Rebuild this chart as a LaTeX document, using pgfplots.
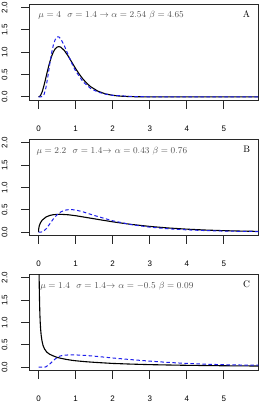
\documentclass[border=0pt]{standalone}
\usepackage{pgfplots}
\pgfplotsset{compat=1.18}
\usepackage{fontspec}
\newfontfamily\axfont{Liberation Sans}
\definecolor{rblue}{RGB}{30,30,235}
\definecolor{anno}{RGB}{80,80,80}
\definecolor{rframe}{RGB}{40,40,40}
\pgfplotsset{
 rpanel/.style={
  scale only axis, width=229pt, height=96.5pt, anchor=north west,
  xmin=-0.25, xmax=5.93, ymin=-0.08, ymax=2.08,
  axis line style={draw=rframe, line width=1pt},
  tick align=outside, xtick pos=bottom, ytick pos=left,
  major tick length=8pt,
  major tick style={draw=rframe, line width=1pt},
  xtick={0,1,2,3,4,5}, xticklabels={0,1,2,3,4,5},
  ytick={0,0.5,1,1.5,2}, yticklabels={0.0,0.5,1.0,1.5,2.0},
  ticklabel style={font=\axfont\fontsize{8}{9}\selectfont},
  xticklabel style={anchor=base, yshift=-23pt},
  yticklabel style={xshift=-14pt, rotate=90, anchor=base},
  clip=false,
 },
 blk/.style={black, line width=1.1pt},
 blu/.style={rblue, line width=1.0pt, dash pattern=on 3.5pt off 2.5pt},
 frm/.style={rframe, line width=1pt, line cap=rect},
 tk/.style={rframe, line width=1pt},
}
\newcommand{\rframebox}{%
\addplot[frm] coordinates {(-0.25,-0.08) (5.93,-0.08) (5.93,2.08) (-0.25,2.08) (-0.25,-0.08)};
\addplot[tk] coordinates {(0,-0.08) (0,-0.26)};
\addplot[tk] coordinates {(1,-0.08) (1,-0.26)};
\addplot[tk] coordinates {(2,-0.08) (2,-0.26)};
\addplot[tk] coordinates {(3,-0.08) (3,-0.26)};
\addplot[tk] coordinates {(4,-0.08) (4,-0.26)};
\addplot[tk] coordinates {(5,-0.08) (5,-0.26)};
\addplot[tk] coordinates {(-0.25,0) (-0.466,0)};
\addplot[tk] coordinates {(-0.25,0.5) (-0.466,0.5)};
\addplot[tk] coordinates {(-0.25,1) (-0.466,1)};
\addplot[tk] coordinates {(-0.25,1.5) (-0.466,1.5)};
\addplot[tk] coordinates {(-0.25,2) (-0.466,2)};
}
\begin{document}
\begin{tikzpicture}
\path[use as bounding box] (0,0) rectangle (263pt,-405pt);
% Panel A
\begin{axis}[rpanel, at={(29.3pt,-4pt)}]
\rframebox
\addplot[blk] coordinates {(0,0) (0.05,0.026) (0.1,0.12) (0.15,0.267) (0.2,0.44) (0.25,0.614) (0.3,0.773) (0.35,0.906) (0.4,1.009) (0.45,1.078) (0.5,1.116) (0.55,1.127) (0.6,1.114) (0.7,1.035) (0.8,0.913) (0.9,0.774) (1.0,0.635) (1.1,0.508) (1.2,0.398) (1.3,0.307) (1.4,0.232) (1.6,0.129) (1.8,0.069) (2.0,0.036) (2.2,0.018) (2.5,0.006) (3.0,0.001) (4,0) (5.93,0)};
\addplot[blu] coordinates {(0,0) (0.1,0.006) (0.15,0.059) (0.2,0.21) (0.25,0.451) (0.3,0.723) (0.35,0.973) (0.4,1.165) (0.45,1.287) (0.5,1.342) (0.55,1.342) (0.6,1.299) (0.7,1.138) (0.8,0.94) (0.9,0.748) (1.0,0.582) (1.2,0.339) (1.4,0.193) (1.6,0.11) (1.8,0.063) (2.0,0.037) (2.5,0.01) (3.0,0.003) (3.5,0.001) (4,0) (5.93,0)};
\node[anchor=base west, text=anno, font=\fontsize{9.5}{11}\selectfont, inner sep=0pt] at (rel axis cs:0.039,0.855) {$\mu=4\ \ \sigma=1.4\rightarrow\alpha=2.54\ \beta=4.65$};
\node[anchor=base east, font=\fontsize{9.5}{11}\selectfont, inner sep=0pt] at (rel axis cs:0.965,0.86) {A};
\end{axis}
% Panel B
\begin{axis}[rpanel, at={(29.3pt,-139.3pt)}]
\rframebox
\addplot[blk] coordinates {(0,0) (0.002,0.055) (0.005,0.08) (0.01,0.108) (0.02,0.145) (0.05,0.21) (0.1,0.272) (0.2,0.34) (0.3,0.375) (0.4,0.393) (0.57,0.402) (0.8,0.391) (1.0,0.37) (1.25,0.336) (1.5,0.301) (2.0,0.233) (2.5,0.175) (3.0,0.13) (3.5,0.095) (4.0,0.069) (4.5,0.049) (5.0,0.035) (5.5,0.025) (5.93,0.019)};
\addplot[blu] coordinates {(0,0) (0.1,0.007) (0.2,0.071) (0.3,0.184) (0.4,0.299) (0.5,0.391) (0.6,0.455) (0.7,0.492) (0.85,0.51) (1.0,0.498) (1.2,0.456) (1.5,0.376) (2.0,0.256) (2.5,0.17) (3.0,0.114) (3.5,0.077) (4.0,0.053) (4.5,0.037) (5.0,0.026) (5.5,0.019) (5.93,0.015)};
\node[anchor=base west, text=anno, font=\fontsize{9.5}{11}\selectfont, inner sep=0pt] at (rel axis cs:0.031,0.855) {$\mu=2.2\ \ \sigma=1.4\mathord{\rightarrow}\ \alpha=0.43\ \beta=0.76$};
\node[anchor=base east, font=\fontsize{9.5}{11}\selectfont, inner sep=0pt] at (rel axis cs:0.965,0.86) {B};
\end{axis}
% Panel C
\begin{axis}[rpanel, at={(29.3pt,-274.3pt)}]
\rframebox
\addplot[blk] coordinates {(0.0145,2.08) (0.02,1.75) (0.027,1.46) (0.035,1.2) (0.045,1.0) (0.055,0.86) (0.07,0.72) (0.09,0.6) (0.12,0.49) (0.16,0.41) (0.22,0.34) (0.3,0.29) (0.38,0.26) (0.5,0.22) (0.6,0.2) (0.75,0.175) (0.9,0.155) (1.0,0.145) (1.25,0.125) (1.5,0.11) (2,0.085) (2.5,0.07) (3,0.058) (3.5,0.05) (4,0.043) (4.5,0.038) (5,0.033) (5.5,0.03) (5.93,0.027)};
\addplot[blu] coordinates {(0,0) (0.16,0) (0.2,0.01) (0.25,0.04) (0.3,0.07) (0.35,0.11) (0.4,0.15) (0.45,0.185) (0.5,0.215) (0.55,0.24) (0.6,0.255) (0.7,0.27) (0.85,0.277) (1.0,0.276) (1.25,0.265) (1.5,0.248) (1.75,0.228) (2,0.207) (2.5,0.17) (3,0.137) (3.5,0.108) (4,0.085) (4.5,0.068) (5,0.056) (5.5,0.049) (5.93,0.045)};
\node[anchor=base west, text=anno, font=\fontsize{9.5}{11}\selectfont, inner sep=0pt] at (rel axis cs:0.047,0.855) {$\mu=1.4\ \ \sigma=1.4\mathord{\rightarrow}\ \alpha=-0.5\ \beta=0.09$};
\node[anchor=base east, font=\fontsize{9.5}{11}\selectfont, inner sep=0pt] at (rel axis cs:0.965,0.86) {C};
\end{axis}
\end{tikzpicture}
\end{document}
